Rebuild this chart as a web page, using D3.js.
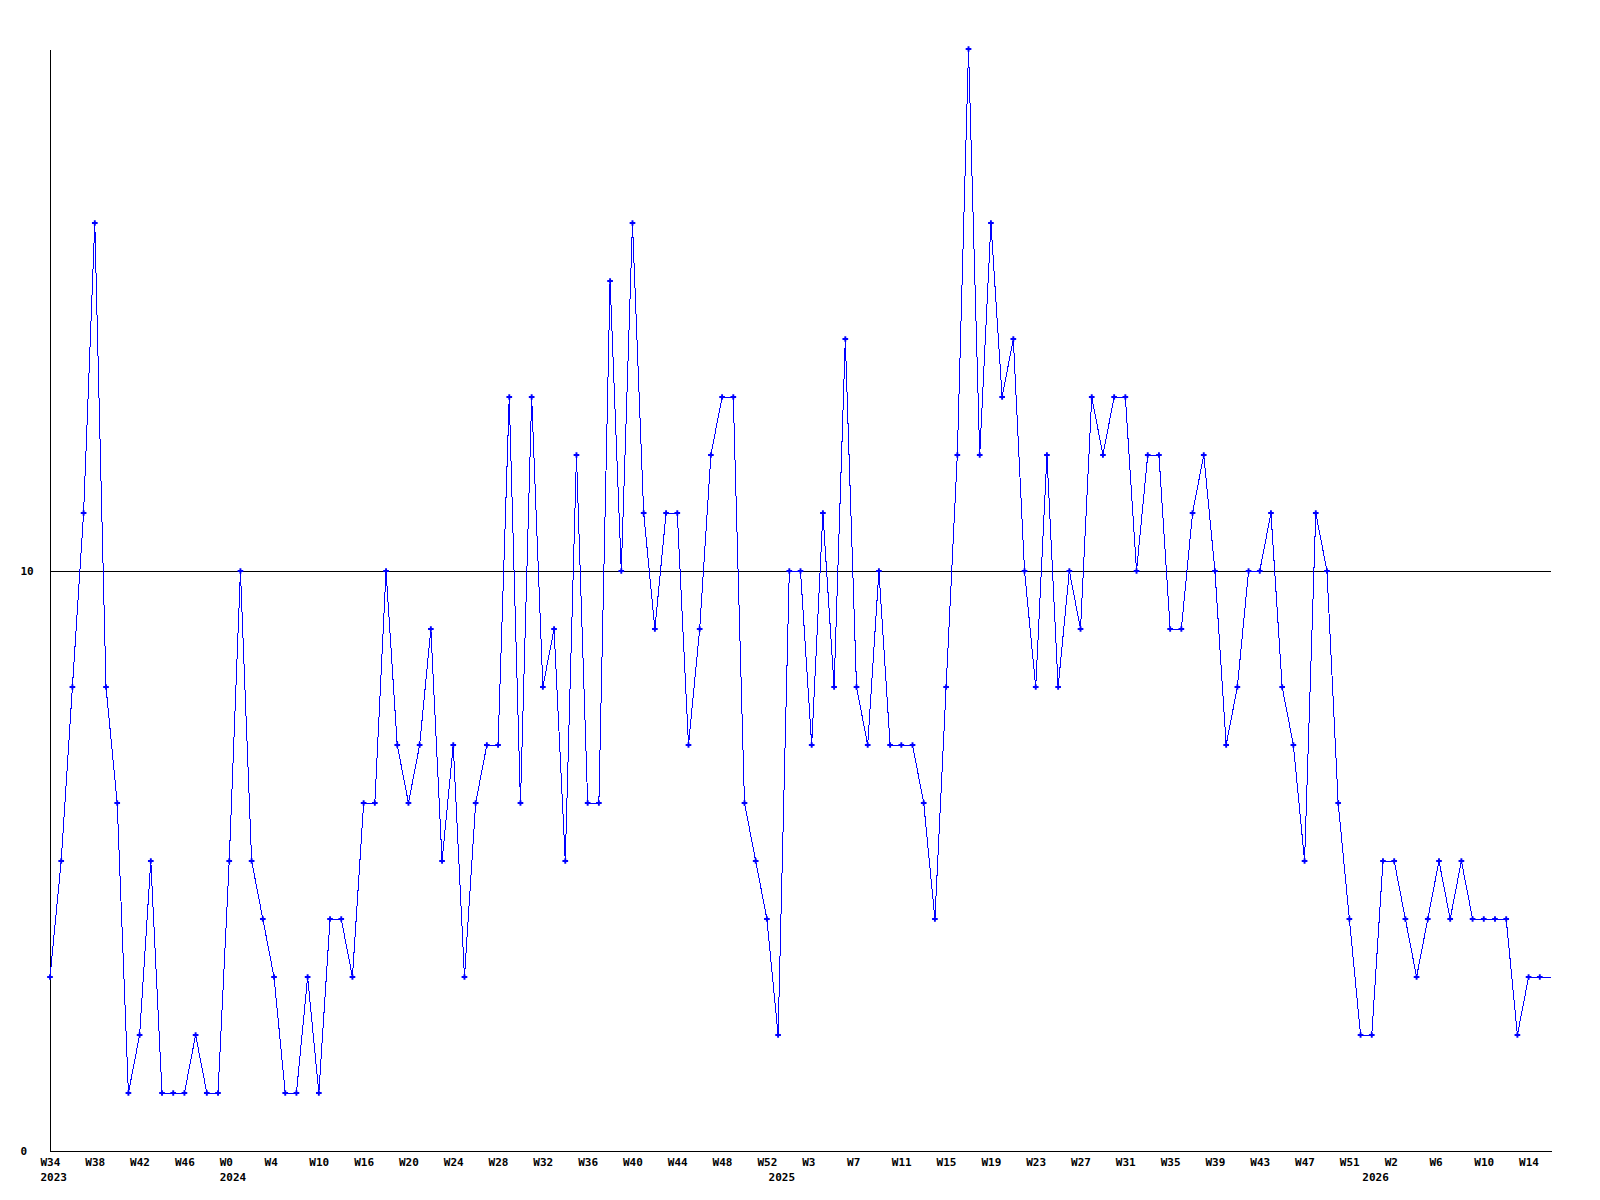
<!DOCTYPE html>
<html>
<head>
<meta charset="utf-8">
<script src="https://cdn.jsdelivr.net/npm/d3@7/dist/d3.min.js"></script>
<style>
  html, body { margin: 0; padding: 0; background: #ffffff; }
  svg { display: block; }
  text { font-family: "DejaVu Sans Mono", "Liberation Mono", monospace; font-weight: bold; font-size: 11px; fill: #000; }
</style>
</head>
<body>
<svg id="chart" width="1600" height="1200"></svg>
<script>
// Weekly values, 2023 W34 onwards
const values = [
  3,5,8,11,16,8,6,1,2,5,1,1,1,2,1,1,5,10,5,4,3,1,1,
  3,1,4,4,3,6,6,10,7,6,7,9,5,7,3,6,7,7,13,6,13,8,
  9,5,12,6,6,15,10,16,11,9,11,11,7,9,12,13,13,6,5,4,2,10,
  10,7,11,8,14,8,7,10,7,7,7,6,4,8,12,19,12,16,13,14,10,8,12,
  8,10,9,13,12,13,13,10,12,12,9,9,11,12,10,7,8,10,10,11,8,7,
  5,11,10,6,4,2,2,5,5,4,3,4,5,4,5,4,4,4,4,2,3,3,3
];
const weekLabels = ["W34","W38","W42","W46","W0","W4","W10","W16","W20","W24","W28","W32",
  "W36","W40","W44","W48","W52","W3","W7","W11","W15","W19","W23","W27","W31","W35",
  "W39","W43","W47","W51","W2","W6","W10","W14"];
const weekTickStep = 4;
const yearLabels = ["2023","2024","2025","2026"];
const yearTickIndex = [0,16,65,118];
const yTickValues = [0,10];
const yMax = 19;

const svg = d3.select("#chart");
const mLeft = 50, mRight = 1551, mTop = 49, mBottom = 1151;

const x = d3.scaleLinear().domain([0, values.length - 1]).range([mLeft, mRight]);
const y = d3.scaleLinear().domain([0, yMax]).range([mBottom, mTop]);

// reference line at 10
svg.append("g").selectAll("line").data(yTickValues.filter(v => v > 0)).join("line")
  .attr("x1", mLeft).attr("x2", mRight)
  .attr("y1", d => Math.round(y(d)) + 0.5).attr("y2", d => Math.round(y(d)) + 0.5)
  .attr("stroke", "#000").attr("stroke-width", 1).attr("shape-rendering", "crispEdges");

// y axis
const yAxis = d3.axisLeft(y).tickValues(yTickValues).tickSize(0).tickFormat(d3.format("d"));
const gy = svg.append("g").attr("transform", `translate(${mLeft + 0.5},0)`).call(yAxis);
gy.select(".domain").attr("stroke", "#000").attr("d", `M0,${mTop + 1}V${mBottom + 0.5}`).attr("shape-rendering", "crispEdges");
gy.selectAll(".tick text").attr("text-anchor", "start").attr("x", 20 - mLeft).attr("dy", "0.36em")
  .style("font-family", "'DejaVu Sans Mono', monospace").style("font-size", "11px").style("font-weight", "bold");

// x axis with week labels
const weekTicks = weekLabels.map((_, i) => i * weekTickStep);
const xAxis = d3.axisBottom(x).tickValues(weekTicks).tickSize(0)
  .tickFormat((d, i) => weekLabels[i]);
const gx = svg.append("g").attr("transform", `translate(0,${mBottom + 0.5})`).call(xAxis);
gx.select(".domain").attr("stroke", "#000").attr("d", `M${mLeft},0H${mRight + 1}`).attr("shape-rendering", "crispEdges");
gx.selectAll(".tick text").attr("text-anchor", "start").attr("x", -10).attr("y", 14).attr("dy", 0)
  .style("font-family", "'DejaVu Sans Mono', monospace").style("font-size", "11px").style("font-weight", "bold");

// year labels
const yearAxis = d3.axisBottom(x).tickValues(yearTickIndex).tickSize(0)
  .tickFormat((d, i) => yearLabels[i]);
const gyr = svg.append("g").attr("transform", `translate(0,${mBottom + 0.5})`).call(yearAxis);
gyr.select(".domain").remove();
gyr.selectAll(".tick text").attr("text-anchor", "start").attr("x", -10).attr("y", 29).attr("dy", 0)
  .style("font-family", "'DejaVu Sans Mono', monospace").style("font-size", "11px").style("font-weight", "bold");

// data line
const line = d3.line().x((d, i) => x(i)).y(d => y(d));
svg.append("path").datum(values)
  .attr("d", line)
  .attr("fill", "none").attr("stroke", "#0000ff").attr("stroke-width", 1)
  .attr("shape-rendering", "crispEdges");

// markers (last point drawn without marker, as in the reference)
const sym = d3.symbol().type(d3.symbolCross).size(18);
svg.append("g").selectAll("path")
  .data(values.map((v, i) => ({ v, i })).filter(d => d.i < values.length - 1))
  .join("path")
  .attr("transform", d => `translate(${x(d.i)},${y(d.v)})`)
  .attr("d", sym)
  .attr("fill", "#0000ff");
</script>
</body>
</html>
